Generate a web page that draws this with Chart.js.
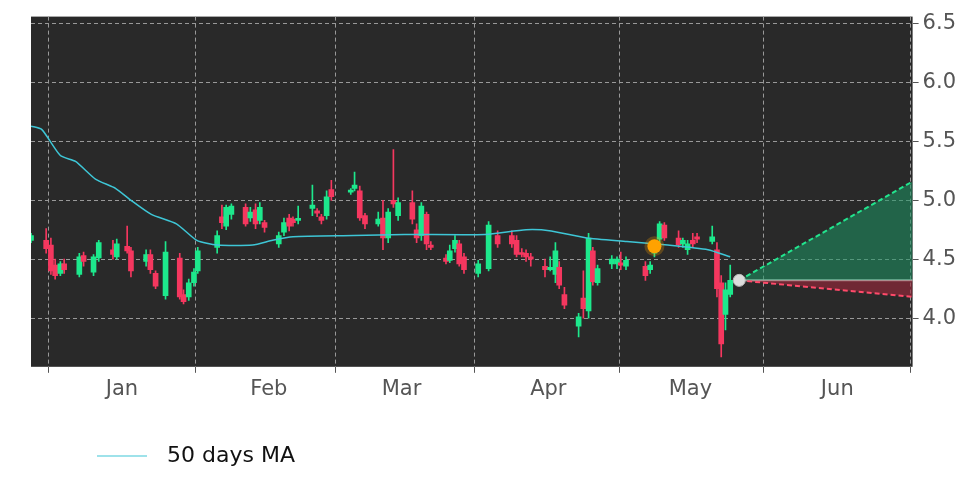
<!DOCTYPE html>
<html>
<head>
<meta charset="utf-8">
<script src="https://cdn.jsdelivr.net/npm/chart.js@4/dist/chart.umd.min.js"></script>
<style>
  html, body { margin: 0; padding: 0; background: #fff; }
  #wrap { width: 972px; height: 486px; position: relative; }
</style>
</head>
<body>
<div id="wrap"><canvas id="c" width="972" height="486"></canvas></div>
<script>
// 日数 (1月1日 = 0)
const candleDays = [-19.2,-16,-15,-14.1,-13,-12.2,-9,-8.1,-6,-4.9,-1.9,-1.1,1.1,1.9,5.1,6,7.1,9.2,12.2,13,14.1,15.2,16,20.1,21.1,22,23.1,26.1,27.1,28.2,29.1,30.1,33.1,34.2,35.3,36.1,37.2,40.2,41.2,42.1,43.2,44.2,48.3,49.1,50.2,51.3,54.1,55.1,56.2,57.3,58.3,61.3,62.2,63.2,64.3,65.2,68.4,69.2,70.3,71.2,72.2,75.2,77.4,79.3,82.3,83.3,84.4,85.3,86.3,89.3,90.4,91.5,92.3,93.4,96.4,97.4,98.5,99.4,100.4,103.4,104.5,105.3,106.4,110.5,111.5,112.4,113.5,114.5,117.5,118.4,119.4,120.5,121.4,124.6,125.6,126.5,127.4,128.4];
const opens  = [4.66,4.66,4.62,4.45,4.38,4.46,4.37,4.53,4.39,4.51,4.58,4.52,4.61,4.57,4.48,4.54,4.38,4.19,4.51,4.20,4.18,4.30,4.40,4.60,4.86,4.78,4.88,4.94,4.85,4.92,4.83,4.81,4.63,4.73,4.85,4.84,4.83,4.93,4.91,4.86,4.87,5.09,5.07,5.10,5.08,4.87,4.80,4.85,4.68,5.00,4.87,4.98,4.75,4.70,4.88,4.62,4.51,4.49,4.59,4.63,4.52,4.38,4.42,4.70,4.70,4.66,4.55,4.55,4.52,4.44,4.41,4.37,4.43,4.20,3.93,4.17,4.06,4.57,4.30,4.46,4.46,4.47,4.44,4.44,4.41,4.55,4.67,4.79,4.68,4.63,4.58,4.66,4.69,4.65,4.58,4.30,4.03,4.20];
const highs  = [4.72,4.76,4.68,4.50,4.48,4.50,4.55,4.56,4.54,4.66,4.66,4.67,4.78,4.60,4.58,4.58,4.40,4.65,4.55,4.24,4.33,4.42,4.60,4.74,4.96,4.96,4.97,4.97,4.94,4.97,4.98,4.83,4.73,4.85,4.88,4.86,4.95,5.13,4.93,4.88,5.08,5.17,5.10,5.24,5.12,4.89,4.90,5.00,4.93,5.43,5.02,5.08,4.80,4.98,4.90,4.65,4.54,4.62,4.70,4.66,4.55,4.49,4.82,4.74,4.74,4.70,4.59,4.58,4.55,4.50,4.52,4.64,4.48,4.26,4.04,4.40,4.72,4.60,4.45,4.53,4.52,4.56,4.52,4.48,4.48,4.60,4.82,4.81,4.74,4.68,4.66,4.72,4.72,4.78,4.64,4.36,4.30,4.45];
const lows   = [4.64,4.55,4.37,4.33,4.36,4.38,4.35,4.44,4.36,4.48,4.50,4.50,4.55,4.35,4.44,4.38,4.25,4.16,4.16,4.12,4.15,4.27,4.38,4.55,4.76,4.75,4.84,4.78,4.82,4.76,4.80,4.73,4.60,4.70,4.74,4.78,4.80,4.87,4.86,4.80,4.84,5.00,5.05,5.08,4.83,4.76,4.78,4.58,4.64,4.94,4.83,4.80,4.64,4.66,4.58,4.58,4.46,4.47,4.56,4.44,4.38,4.35,4.40,4.60,4.60,4.52,4.52,4.48,4.44,4.35,4.40,4.30,4.25,4.08,3.84,4.00,4.00,4.28,4.28,4.42,4.42,4.41,4.41,4.32,4.38,4.52,4.62,4.66,4.60,4.60,4.54,4.60,4.64,4.63,4.18,3.67,3.90,4.18];
const closes = [4.70,4.59,4.40,4.36,4.46,4.41,4.52,4.48,4.52,4.64,4.54,4.63,4.57,4.40,4.54,4.41,4.27,4.56,4.18,4.14,4.30,4.39,4.57,4.70,4.81,4.94,4.95,4.80,4.90,4.80,4.94,4.77,4.70,4.81,4.78,4.81,4.84,4.96,4.89,4.83,5.03,5.03,5.08,5.13,4.85,4.80,4.84,4.68,4.90,4.97,4.98,4.84,4.68,4.95,4.63,4.60,4.48,4.57,4.66,4.46,4.41,4.46,4.79,4.63,4.63,4.54,4.54,4.52,4.50,4.41,4.43,4.57,4.28,4.11,4.01,4.08,4.68,4.31,4.42,4.50,4.50,4.45,4.49,4.36,4.45,4.57,4.80,4.68,4.62,4.66,4.63,4.63,4.67,4.69,4.25,3.78,4.24,4.32];

// 50日移動平均
const maDays   = [-19.2,-16.9,-13,-9.8,-5.6,-1.3,1.9,6.2,11.5,15.8,20.1,27.6,31.8,36.1,48.9,59.6,76.7,85.3,90.6,98.1,106.6,115.2,123.7,128.4];
const maValues = [5.63,5.60,5.38,5.33,5.18,5.10,5.00,4.88,4.80,4.66,4.62,4.62,4.66,4.69,4.70,4.71,4.71,4.75,4.74,4.68,4.65,4.62,4.58,4.52];

// 予測
const projStart = 130.3, projEnd = 166.9;
const projBase = 4.32, projHigh = 5.16, projLow = 4.18;
const signalPoint = { x: 112.4, y: 4.61 };

const monthTicks = [0, 31, 59, 90, 120, 151];
const monthLabels = ['Jan', 'Feb', 'Mar', 'Apr', 'May', 'Jun'];
const priceTicks = [4.0, 4.5, 5.0, 5.5, 6.0, 6.5];

const GREEN = '#1de88c', RED = '#f5375f';
const candleColors = closes.map((c, i) => c >= opens[i] ? GREEN : RED);

const wickData = candleDays.map((d, i) => ({ x: d, y: [lows[i], highs[i]] }));
const bodyData = candleDays.map((d, i) => ({ x: d, y: [opens[i], closes[i]] }));

const plotBg = {
  id: 'plotBg',
  beforeDraw(chart) {
    const { ctx, chartArea: a } = chart;
    ctx.save();
    ctx.fillStyle = '#292929';
    ctx.fillRect(a.left, a.top, a.right - a.left, a.bottom - a.top);
    ctx.restore();
  },
  afterDraw(chart) {
    const ctx = chart.ctx;
    ctx.save();
    ctx.strokeStyle = '#3ec6d6';
    ctx.lineWidth = 1.2;
    ctx.beginPath();
    ctx.moveTo(97, 456);
    ctx.lineTo(147, 456);
    ctx.stroke();
    ctx.fillStyle = '#111';
    ctx.font = '22px "DejaVu Sans"';
    ctx.textBaseline = 'middle';
    ctx.fillText('50 days MA', 167, 456);
    ctx.restore();
  }
};

new Chart(document.getElementById('c'), {
  data: {
    datasets: [
      { type: 'line', data: [{ x: projStart, y: projBase }, { x: projEnd, y: projHigh }],
        borderColor: '#22e58e', borderDash: [5, 3], borderWidth: 2, pointRadius: 0,
        fill: { target: 2 }, backgroundColor: 'rgba(30,150,100,0.55)', order: 5 },
      { type: 'line', data: [{ x: projStart, y: projBase }, { x: projEnd, y: projLow }],
        borderColor: '#ff4a6a', borderDash: [5, 3], borderWidth: 2, pointRadius: 0,
        fill: { target: 2 }, backgroundColor: 'rgba(160,40,60,0.6)', order: 5 },
      { type: 'line', data: [{ x: projStart, y: projBase }, { x: projEnd, y: projBase }],
        borderColor: '#dddddd', borderWidth: 2, pointRadius: 0, fill: false, order: 5 },
      { type: 'bar', data: wickData, backgroundColor: candleColors, barThickness: 1, grouped: false, order: 4 },
      { type: 'bar', data: bodyData, backgroundColor: candleColors, barThickness: 5, minBarLength: 2, grouped: false, order: 3 },
      { type: 'line', data: maDays.map((d, i) => ({ x: d, y: maValues[i] })),
        borderColor: '#3ec6d6', borderWidth: 1.5, pointRadius: 0, tension: 0.2, order: 2 },
      { type: 'line', data: [signalPoint], borderColor: 'rgba(255,165,0,0.25)', backgroundColor: '#ffa200',
        pointRadius: 7, pointBorderWidth: 6, showLine: false, order: 1 },
      { type: 'line', data: [{ x: projStart, y: projBase }], borderColor: '#bbb', backgroundColor: '#dcdcdc',
        pointRadius: 6, pointBorderWidth: 1, showLine: false, order: 0 }
    ]
  },
  options: {
    responsive: false,
    animation: false,
    layout: { padding: { left: 31, top: 15, right: 12, bottom: 80 } },
    plugins: { legend: { display: false }, tooltip: { enabled: false } },
    scales: {
      x: {
        type: 'linear', min: -19.2, max: 166.9, offset: false,
        afterBuildTicks(axis) { axis.ticks = monthTicks.map(v => ({ value: v })); },
        ticks: { callback: (v) => monthLabels[monthTicks.indexOf(v)], color: '#555', font: { size: 21, family: 'DejaVu Sans' }, maxRotation: 0, padding: 4 },
        grid: { color: '#999', tickLength: 6, tickColor: '#555' },
        border: { display: false, dash: [4, 3] }
      },
      y: {
        position: 'right', min: 3.586, max: 6.56,
        afterBuildTicks(axis) { axis.ticks = priceTicks.map(v => ({ value: v })); },
        ticks: { callback: (v) => v.toFixed(1), color: '#555', font: { size: 21, family: 'DejaVu Sans' }, padding: 4 },
        grid: { color: '#999', tickLength: 6, tickColor: '#555' },
        border: { display: false, dash: [4, 3] }
      }
    }
  },
  plugins: [plotBg]
});
</script>
</body>
</html>
